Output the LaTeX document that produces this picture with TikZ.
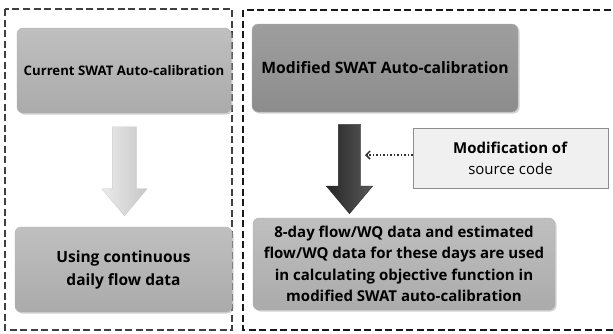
\documentclass[tikz,border=0pt]{standalone}
\usepackage{fontspec}
\setmainfont{Open Sans}
\usetikzlibrary{shapes.arrows,shadows,positioning,arrows.meta}

\begin{document}
\begin{tikzpicture}[x=1pt,y=-1pt]
\tikzstyle{frame}=[draw=black!75,line width=1.6pt,dash pattern=on 7pt off 3.5pt]
\tikzstyle{stage}=[draw=black!30,rounded corners=6pt,top color=black!25,bottom color=black!33,
  inner sep=0pt,align=center,font=\bfseries,
  drop shadow={shadow xshift=1.5pt,shadow yshift=-1.5pt,fill=black!35}]
\tikzstyle{downarrow}=[single arrow,shape border rotate=270,inner sep=11pt,
  minimum height=89pt,single arrow head extend=12pt,single arrow tip angle=80]
\tikzstyle{note}=[draw=black!45,fill=black!6,inner sep=0pt,align=center,
  minimum width=195pt,minimum height=60pt]
\useasboundingbox (0,0) rectangle (613,333);

% the two halves
\draw[frame] (5,9) rectangle (232,330);
\draw[frame,draw=black!90,line width=1.8pt] (243,10) rectangle (616,330);

% current procedure
\node[stage,minimum width=214pt,minimum height=85pt,font=\bfseries\fontsize{13.2}{16}\selectfont]
  (current) at (124,70.5) {Current SWAT Auto-calibration};
\node[downarrow,inner sep=12pt,single arrow head extend=10.5pt,draw=black!20,left color=black!8,right color=black!22]
  (curarrow) at (124.5,164) {};
\node[stage,minimum width=217pt,minimum height=85pt,font=\bfseries\fontsize{15.5}{23}\selectfont]
  (daily) at (123.5,269.5) {Using continuous\\daily flow data};

% modified procedure
\node[stage,top color=black!38,bottom color=black!45,minimum width=266pt,minimum height=88pt,
  font=\bfseries\fontsize{15.7}{19}\selectfont]
  (modified) at (385,68) {Modified SWAT Auto-calibration};
\node[downarrow,draw=black!85,left color=black!85,right color=black!65]
  (modarrow) at (349.5,162.5) {};
\node[note,font=\fontsize{15}{21}\selectfont] (source) at (510.5,158)
  {\textbf{Modification of}\\source code};
\node[stage,minimum width=302pt,minimum height=92pt,font=\bfseries\fontsize{15}{21.5}\selectfont]
  (eightday) at (404,264)
  {8-day flow/WQ data and estimated\\flow/WQ data for these days are used\\in calculating objective function in\\modified SWAT auto-calibration};

% the change feeds into the modified step
\coordinate (hook) at (365,155);
\draw[dotted,line width=1.5pt,black!80,-{Straight Barb[length=4pt]}]
  (source.west |- hook) -- (hook);
\end{tikzpicture}
\end{document}
